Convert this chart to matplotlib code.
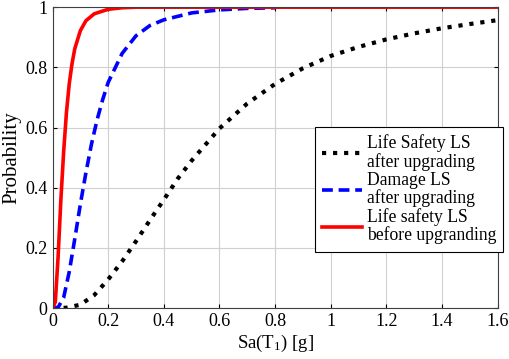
import numpy as np
import matplotlib.pyplot as plt

plt.rcParams['font.family'] = ['Liberation Serif', 'DejaVu Serif']
plt.rcParams['mathtext.fontset'] = 'custom'
plt.rcParams['mathtext.rm'] = 'Liberation Serif'
plt.rcParams['mathtext.it'] = 'Liberation Serif:italic'

# curvas
x_ls_after = [0, 0.05, 0.1, 0.15, 0.2, 0.25, 0.3, 0.35, 0.4, 0.45, 0.5, 0.6, 0.7,
              0.8, 0.9, 1.0, 1.1, 1.2, 1.3, 1.4, 1.5, 1.6]
p_ls_after = [0, 0.001, 0.011, 0.043, 0.095, 0.155, 0.222, 0.292, 0.36, 0.43, 0.49,
              0.597, 0.68, 0.745, 0.797, 0.838, 0.868, 0.893, 0.913, 0.93, 0.944, 0.957]

x_dmg_after = [0, 0.02, 0.04, 0.06, 0.08, 0.1, 0.12, 0.14, 0.16, 0.18, 0.2, 0.25,
               0.3, 0.35, 0.4, 0.5, 0.6, 0.7, 0.8]
p_dmg_after = [0, 0.002, 0.035, 0.12, 0.23, 0.345, 0.45, 0.545, 0.625, 0.692, 0.75,
               0.846, 0.905, 0.939, 0.958, 0.981, 0.991, 0.996, 0.998]

x_ls_before = [0, 0.01, 0.02, 0.03, 0.04, 0.05, 0.06, 0.07, 0.08, 0.1, 0.12, 0.15,
               0.2, 0.25, 0.3, 1.6]
p_ls_before = [0, 0.02, 0.17, 0.36, 0.52, 0.65, 0.745, 0.812, 0.862, 0.922, 0.955,
               0.978, 0.993, 0.998, 1.0, 1.0]

fig = plt.figure(figsize=(5.1, 3.59), dpi=100)
ax = fig.add_axes([0.103, 0.142, 0.873, 0.838])

ax.plot(x_ls_after, p_ls_after, color='black', linestyle=':', linewidth=3,
        label='Life Safety LS\nafter upgrading')
ax.plot(x_dmg_after, p_dmg_after, color='blue', linestyle=(0, (3, 1.6)), linewidth=2.6,
        label='Damage LS\nafter upgrading')
ax.plot(x_ls_before, p_ls_before, color='red', linestyle='-', linewidth=2.6,
        label='Life safety LS\nbefore upgranding')

ax.set_xlim(0, 1.6)
ax.set_ylim(0, 1)
ax.set_xticks(np.arange(0, 1.61, 0.2))
ax.set_xticklabels(['0', '0.2', '0.4', '0.6', '0.8', '1', '1.2', '1.4', '1.6'])
ax.set_yticks(np.arange(0, 1.01, 0.2))
ax.set_yticklabels(['0', '0.2', '0.4', '0.6', '0.8', '1'])
ax.tick_params(direction='in', top=True, right=True, labelsize=13, length=3)
ax.grid(True, color='#d0d0d0', linewidth=0.8)
for s in ax.spines.values():
    s.set_color('#404040')

ax.set_xlabel('Sa(T$_{1}$) [g]', fontsize=13.5, labelpad=2)
ax.set_ylabel('Probability', fontsize=15, labelpad=3)

leg = ax.legend(loc='upper left', bbox_to_anchor=(0.589, 0.601), borderaxespad=0,
                fontsize=12.7, fancybox=False, edgecolor='black', framealpha=1,
                handlelength=2.3, labelspacing=0.05, borderpad=0.4, handletextpad=0.25)
leg.get_frame().set_linewidth(0.8)
for t in leg.get_texts():
    t.set_linespacing(1.05)

plt.savefig('out.png', dpi=100)
